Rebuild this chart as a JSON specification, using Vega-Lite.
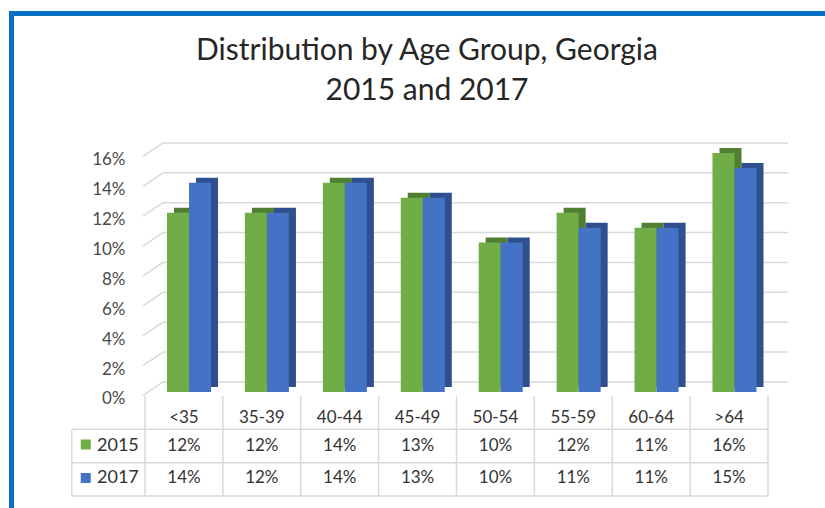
{
  "$schema": "https://vega.github.io/schema/vega-lite/v6.json",
  "width": 814,
  "height": 495,
  "padding": {"left": 11, "top": 13, "right": 0, "bottom": 0},
  "autosize": {"type": "none"},
  "background": "white",
  "config": {"font": "Lato", "view": {"stroke": null}},
  "title": {
    "text": ["Distribution by Age Group, Georgia", "2015 and 2017"],
    "font": "Lato",
    "fontSize": 30,
    "fontWeight": "normal",
    "color": "#262626",
    "lineHeight": 40,
    "anchor": "middle",
    "frame": "group",
    "offset": -93,
    "dx": 9
  },
  "datasets": {
    "main": [
      {"age": "<35", "year": "2015", "share": 0.12},
      {"age": "35-39", "year": "2015", "share": 0.12},
      {"age": "40-44", "year": "2015", "share": 0.14},
      {"age": "45-49", "year": "2015", "share": 0.13},
      {"age": "50-54", "year": "2015", "share": 0.10},
      {"age": "55-59", "year": "2015", "share": 0.12},
      {"age": "60-64", "year": "2015", "share": 0.11},
      {"age": ">64", "year": "2015", "share": 0.16},
      {"age": "<35", "year": "2017", "share": 0.14},
      {"age": "35-39", "year": "2017", "share": 0.12},
      {"age": "40-44", "year": "2017", "share": 0.14},
      {"age": "45-49", "year": "2017", "share": 0.13},
      {"age": "50-54", "year": "2017", "share": 0.10},
      {"age": "55-59", "year": "2017", "share": 0.11},
      {"age": "60-64", "year": "2017", "share": 0.11},
      {"age": ">64", "year": "2017", "share": 0.15}
    ],
    "levels": [
      {"level": 0}, {"level": 0.02}, {"level": 0.04}, {"level": 0.06}, {"level": 0.08},
      {"level": 0.10}, {"level": 0.12}, {"level": 0.14}, {"level": 0.16}
    ],
    "one": [{}]
  },
  "data": {"name": "main"},
  "resolve": {
    "scale": {"x": "independent", "y": "independent", "color": "independent", "xOffset": "independent"},
    "axis": {"x": "independent", "y": "independent"}
  },
  "layer": [
    {
      "data": {"name": "levels"},
      "mark": {"type": "rule", "color": "#d9d9d9", "strokeWidth": 1.5, "yOffset": -10},
      "encoding": {
        "x": {"datum": 0.231, "type": "quantitative", "scale": {"domain": [-1.7207, 8.7319], "nice": false, "zero": false},
              "axis": {"orient": "top", "domainColor": "#0b6fc3", "domainWidth": 5, "domainCap": "square", "labels": false, "ticks": false, "grid": false, "title": null}},
        "x2": {"datum": 8.257},
        "y": {"field": "level", "type": "quantitative", "scale": {"domain": [-0.07766, 0.25372], "nice": false, "zero": false},
              "axis": {"orient": "left", "domainColor": "#0b6fc3", "domainWidth": 5, "domainCap": "square", "labels": false, "ticks": false, "grid": false, "title": null}}
      }
    },
    {
      "data": {"name": "levels"},
      "mark": {"type": "rule", "color": "#d9d9d9", "strokeWidth": 1.5, "yOffset": 3.5, "y2Offset": -10},
      "encoding": {
        "x": {"datum": -0.0257, "type": "quantitative", "scale": {"domain": [-1.7207, 8.7319], "nice": false, "zero": false}, "axis": null},
        "x2": {"datum": 0.231},
        "y": {"field": "level", "type": "quantitative", "scale": {"domain": [-0.07766, 0.25372], "nice": false, "zero": false}, "axis": null},
        "y2": {"field": "level"}
      }
    },
    {
      "mark": {"type": "bar"},
      "encoding": {
        "x": {"field": "age", "type": "nominal", "sort": ["<35","35-39","40-44","45-49","50-54","55-59","60-64",">64"],
              "scale": {"type": "band", "paddingInner": 0.435, "paddingOuter": 0, "range": [163, 752.5]}, "axis": null},
        "xOffset": {"field": "year", "type": "nominal", "sort": ["2015", "2017"]},
        "y": {"field": "share", "type": "quantitative", "scale": {"domain": [-0.08101, 0.25037], "nice": false, "zero": false}, "axis": null},
        "color": {"field": "year", "type": "nominal", "scale": {"domain": ["2015", "2017"], "range": ["#507e32", "#2f4f8f"]}, "legend": null}
      }
    },
    {
      "mark": {"type": "bar"},
      "encoding": {
        "x": {"field": "age", "type": "nominal", "sort": ["<35","35-39","40-44","45-49","50-54","55-59","60-64",">64"],
              "scale": {"type": "band", "paddingInner": 0.435, "paddingOuter": 0, "range": [156, 745.5]}, "axis": null},
        "xOffset": {"field": "year", "type": "nominal", "sort": ["2015", "2017"]},
        "y": {"field": "share", "type": "quantitative", "scale": {"domain": [-0.07766, 0.25372], "nice": false, "zero": false},
              "axis": {"orient": "left", "offset": -117, "values": [0, 0.02, 0.04, 0.06, 0.08, 0.1, 0.12, 0.14, 0.16], "format": ".0%",
                       "domain": false, "ticks": false, "grid": false, "labelPadding": 3, "labelFont": "Lato", "labelFontSize": 17,
                       "labelColor": "#4a4a4a", "labelOffset": 7, "title": null}},
        "color": {"field": "year", "type": "nominal", "scale": {"domain": ["2015", "2017"], "range": ["#70ad47", "#4472c4"]}, "legend": null}
      }
    },
    {
      "transform": [{"filter": "datum.year === '2015'"}],
      "mark": {"type": "rule", "color": "#d9d9d9", "strokeWidth": 1.5},
      "encoding": {
        "x": {"field": "age", "type": "nominal", "bandPosition": 0, "sort": ["<35","35-39","40-44","45-49","50-54","55-59","60-64",">64"],
              "scale": {"type": "band", "paddingInner": 0, "paddingOuter": 0, "range": [134, 757]}, "axis": null},
        "y": {"datum": 0, "type": "quantitative", "scale": {"domain": [-3.358, 11.484], "nice": false, "zero": false}, "axis": null},
        "y2": {"datum": -3}
      }
    },
    {
      "transform": [{"filter": "datum.year === '2015' && datum.age === '>64'"}],
      "mark": {"type": "rule", "color": "#d9d9d9", "strokeWidth": 1.5},
      "encoding": {
        "x": {"field": "age", "type": "nominal", "bandPosition": 1, "sort": ["<35","35-39","40-44","45-49","50-54","55-59","60-64",">64"],
              "scale": {"type": "band", "paddingInner": 0, "paddingOuter": 0, "range": [134, 757], "domain": ["<35","35-39","40-44","45-49","50-54","55-59","60-64",">64"]}, "axis": null},
        "y": {"datum": 0, "type": "quantitative", "scale": {"domain": [-3.358, 11.484], "nice": false, "zero": false}, "axis": null},
        "y2": {"datum": -3}
      }
    },
    {
      "data": {"name": "one"},
      "mark": {"type": "rule", "color": "#d9d9d9", "strokeWidth": 1.5},
      "encoding": {
        "x": {"datum": -0.941, "type": "quantitative", "scale": {"domain": [-1.7207, 8.7319], "nice": false, "zero": false}, "axis": null},
        "x2": {"datum": 8},
        "y": {"datum": -1, "type": "quantitative", "scale": {"domain": [-3.358, 11.484], "nice": false, "zero": false}, "axis": null}
      }
    },
    {
      "data": {"name": "one"},
      "mark": {"type": "rule", "color": "#d9d9d9", "strokeWidth": 1.5},
      "encoding": {
        "x": {"datum": -0.941, "type": "quantitative", "scale": {"domain": [-1.7207, 8.7319], "nice": false, "zero": false}, "axis": null},
        "x2": {"datum": 8},
        "y": {"datum": -2, "type": "quantitative", "scale": {"domain": [-3.358, 11.484], "nice": false, "zero": false}, "axis": null}
      }
    },
    {
      "data": {"name": "one"},
      "mark": {"type": "rule", "color": "#d9d9d9", "strokeWidth": 1.5},
      "encoding": {
        "x": {"datum": -0.941, "type": "quantitative", "scale": {"domain": [-1.7207, 8.7319], "nice": false, "zero": false}, "axis": null},
        "x2": {"datum": 8},
        "y": {"datum": -3, "type": "quantitative", "scale": {"domain": [-3.358, 11.484], "nice": false, "zero": false}, "axis": null}
      }
    },
    {
      "data": {"name": "one"},
      "mark": {"type": "rule", "color": "#d9d9d9", "strokeWidth": 1.5},
      "encoding": {
        "x": {"datum": -0.941, "type": "quantitative", "scale": {"domain": [-1.7207, 8.7319], "nice": false, "zero": false}, "axis": null},
        "y": {"datum": -1, "type": "quantitative", "scale": {"domain": [-3.358, 11.484], "nice": false, "zero": false}, "axis": null},
        "y2": {"datum": -3}
      }
    },
    {
      "transform": [{"filter": "datum.year === '2015'"}],
      "mark": {"type": "text", "font": "Lato", "fontSize": 17, "color": "#333333", "baseline": "middle", "align": "center"},
      "encoding": {
        "x": {"field": "age", "type": "nominal", "sort": ["<35","35-39","40-44","45-49","50-54","55-59","60-64",">64"],
              "scale": {"type": "band", "paddingInner": 0, "paddingOuter": 0, "range": [134, 757]}, "axis": null},
        "y": {"datum": -0.65, "type": "quantitative", "scale": {"domain": [-3.358, 11.484], "nice": false, "zero": false}, "axis": null},
        "text": {"field": "age"}
      }
    },
    {
      "transform": [{"filter": "datum.year === '2015'"}],
      "mark": {"type": "text", "font": "Lato", "fontSize": 17, "color": "#333333", "baseline": "middle", "align": "center"},
      "encoding": {
        "x": {"field": "age", "type": "nominal", "sort": ["<35","35-39","40-44","45-49","50-54","55-59","60-64",">64"],
              "scale": {"type": "band", "paddingInner": 0, "paddingOuter": 0, "range": [134, 757]}, "axis": null},
        "y": {"datum": -1.5, "type": "quantitative", "scale": {"domain": [-3.358, 11.484], "nice": false, "zero": false}, "axis": null},
        "text": {"field": "share", "format": ".0%"}
      }
    },
    {
      "transform": [{"filter": "datum.year === '2017'"}],
      "mark": {"type": "text", "font": "Lato", "fontSize": 17, "color": "#333333", "baseline": "middle", "align": "center"},
      "encoding": {
        "x": {"field": "age", "type": "nominal", "sort": ["<35","35-39","40-44","45-49","50-54","55-59","60-64",">64"],
              "scale": {"type": "band", "paddingInner": 0, "paddingOuter": 0, "range": [134, 757]}, "axis": null},
        "y": {"datum": -2.46, "type": "quantitative", "scale": {"domain": [-3.358, 11.484], "nice": false, "zero": false}, "axis": null},
        "text": {"field": "share", "format": ".0%"}
      }
    },
    {
      "transform": [{"filter": "datum.year === '2015' && datum.age === '<35'"}],
      "mark": {"type": "square", "size": 100, "opacity": 1, "filled": true},
      "encoding": {
        "x": {"datum": -0.761, "type": "quantitative", "scale": {"domain": [-1.7207, 8.7319], "nice": false, "zero": false}, "axis": null},
        "y": {"datum": -1.454, "type": "quantitative", "scale": {"domain": [-3.358, 11.484], "nice": false, "zero": false}, "axis": null},
        "color": {"field": "year", "type": "nominal", "scale": {"domain": ["2015", "2017"], "range": ["#70ad47", "#4472c4"]}, "legend": null}
      }
    },
    {
      "transform": [{"filter": "datum.year === '2017' && datum.age === '<35'"}],
      "mark": {"type": "square", "size": 100, "opacity": 1, "filled": true},
      "encoding": {
        "x": {"datum": -0.761, "type": "quantitative", "scale": {"domain": [-1.7207, 8.7319], "nice": false, "zero": false}, "axis": null},
        "y": {"datum": -2.459, "type": "quantitative", "scale": {"domain": [-3.358, 11.484], "nice": false, "zero": false}, "axis": null},
        "color": {"field": "year", "type": "nominal", "scale": {"domain": ["2015", "2017"], "range": ["#70ad47", "#4472c4"]}, "legend": null}
      }
    },
    {
      "transform": [{"filter": "datum.year === '2015' && datum.age === '<35'"}],
      "mark": {"type": "text", "font": "Lato", "fontSize": 18, "color": "#333333", "baseline": "middle", "align": "left"},
      "encoding": {
        "x": {"datum": -0.616, "type": "quantitative", "scale": {"domain": [-1.7207, 8.7319], "nice": false, "zero": false}, "axis": null},
        "y": {"datum": -1.5, "type": "quantitative", "scale": {"domain": [-3.358, 11.484], "nice": false, "zero": false}, "axis": null},
        "text": {"field": "year"}
      }
    },
    {
      "transform": [{"filter": "datum.year === '2017' && datum.age === '<35'"}],
      "mark": {"type": "text", "font": "Lato", "fontSize": 18, "color": "#333333", "baseline": "middle", "align": "left"},
      "encoding": {
        "x": {"datum": -0.616, "type": "quantitative", "scale": {"domain": [-1.7207, 8.7319], "nice": false, "zero": false}, "axis": null},
        "y": {"datum": -2.46, "type": "quantitative", "scale": {"domain": [-3.358, 11.484], "nice": false, "zero": false}, "axis": null},
        "text": {"field": "year"}
      }
    }
  ]
}
